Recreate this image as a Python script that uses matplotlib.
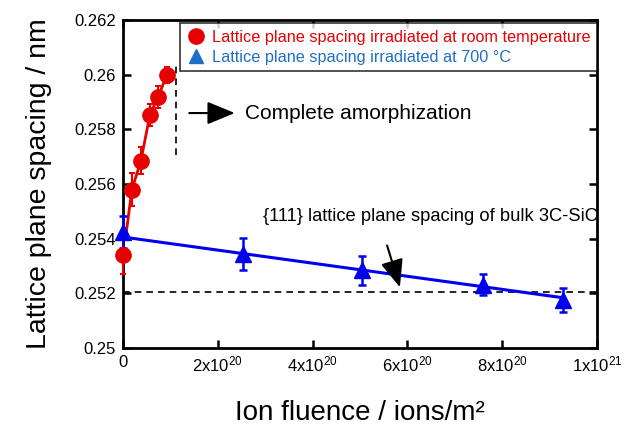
import numpy as np
import matplotlib.pyplot as plt

plt.rcParams['font.family'] = ['Liberation Sans', 'DejaVu Sans']
plt.rcParams['mathtext.fontset'] = 'custom'
plt.rcParams['mathtext.rm'] = 'Liberation Sans'
plt.rcParams['mathtext.it'] = 'Liberation Sans'

# room temperature irradiation (ions/m^2, nm)
rt_x = [0.0, 0.19e20, 0.38e20, 0.57e20, 0.74e20, 0.93e20]
rt_y = [0.2534, 0.2558, 0.25685, 0.25853, 0.25918, 0.2600]
rt_err = [0.0007, 0.0006, 0.0005, 0.0004, 0.0004, 0.0003]
# red trend line
rt_fit_x = [0.06e20, 0.19e20, 0.38e20, 0.57e20, 0.74e20, 0.93e20]
rt_fit_y = [0.25406, 0.2558, 0.25685, 0.25853, 0.25918, 0.2600]

# 700 C irradiation
ht_x = [0.0, 2.53e20, 5.04e20, 7.59e20, 9.28e20]
ht_y = [0.25424, 0.25344, 0.25285, 0.25232, 0.25176]
ht_err = [0.0006, 0.0006, 0.00053, 0.0004, 0.00045]
ht_fit_x = [0.0, 9.3e20]
ht_fit_y = [0.25406, 0.25183]

bulk_d = 0.25205
amorph_x = 1.12e20

xticks = [0, 2e20, 4e20, 6e20, 8e20, 1e21]
xticklabels = ['0', '2x10$^{20}$', '4x10$^{20}$', '6x10$^{20}$', '8x10$^{20}$', '1x10$^{21}$']
yticks = [0.25, 0.252, 0.254, 0.256, 0.258, 0.26, 0.262]
yticklabels = ['0.25', '0.252', '0.254', '0.256', '0.258', '0.26', '0.262']

red = '#e60000'
blue = '#0000ee'
legblue = '#1f6fc8'

fig = plt.figure(figsize=(6.3, 4.3), dpi=100)
ax = fig.add_axes([0.195, 0.191, 0.753, 0.762])

# reference lines
ax.plot([0.01e20, 1e21], [bulk_d, bulk_d], 'k--', lw=1.2, dashes=(4, 3))
ax.plot([amorph_x, amorph_x], [0.25706, 0.26048], 'k--', lw=1.2, dashes=(4, 3))

# fit lines
ax.plot(rt_fit_x, rt_fit_y, color=red, lw=2)
ax.plot(ht_fit_x, ht_fit_y, color=blue, lw=2.2)

ax.errorbar(rt_x, rt_y, yerr=rt_err, fmt='o', color=red, ms=11, capsize=2.5,
            elinewidth=1.5, capthick=1.5, clip_on=False, zorder=4)
ax.errorbar(ht_x, ht_y, yerr=ht_err, fmt='^', color=blue, ms=11, capsize=3,
            elinewidth=1.8, capthick=1.8, clip_on=False, zorder=4)

# legend (drawn with proxy handles to match colours)
h1, = ax.plot([], [], 'o', color=red, ms=11)
h2, = ax.plot([], [], '^', color=legblue, ms=10)
leg = ax.legend([h1, h2], ['Lattice plane spacing irradiated at room temperature',
                           'Lattice plane spacing irradiated at 700 \u00b0C'],
                loc='upper right', bbox_to_anchor=(1.0, 0.99), fontsize=11.7,
                frameon=True, fancybox=False, edgecolor='black', handletextpad=0.45,
                borderpad=0.4, labelspacing=0.3, handlelength=1.1, borderaxespad=0)
leg.get_frame().set_linewidth(1.2)
for txt, c in zip(leg.get_texts(), [red, legblue]):
    txt.set_color(c)

arrow_style = dict(arrowstyle='-|>,head_length=1.7,head_width=0.7',
                   color='black', lw=1.5, shrinkA=0, shrinkB=0)

# annotations
ax.annotate('', xy=(2.36e20, 0.2586), xytext=(1.4e20, 0.2586), arrowprops=arrow_style)
ax.text(2.57e20, 0.2586, 'Complete amorphization', fontsize=15, va='center', ha='left')
ax.text(2.95e20, 0.25482, '{111} lattice plane spacing of bulk 3C-SiC', fontsize=13.2,
        va='center', ha='left')
ax.annotate('', xy=(5.84e20, 0.25222), xytext=(5.57e20, 0.25375), arrowprops=arrow_style)

ax.set_xlim(0, 1e21)
ax.set_ylim(0.25, 0.262)
ax.set_xticks(xticks)
ax.set_xticklabels(xticklabels)
ax.set_yticks(yticks)
ax.set_yticklabels(yticklabels)
ax.tick_params(direction='in', length=6, width=1.8, labelsize=12, top=True, right=True,
               pad=5)
for s in ax.spines.values():
    s.set_linewidth(2)

ax.set_xlabel('Ion fluence / ions/m\u00b2', fontsize=20, labelpad=18)
ax.set_ylabel('Lattice plane spacing / nm', fontsize=20.5, labelpad=16)

fig.savefig('out.png', dpi=100)
